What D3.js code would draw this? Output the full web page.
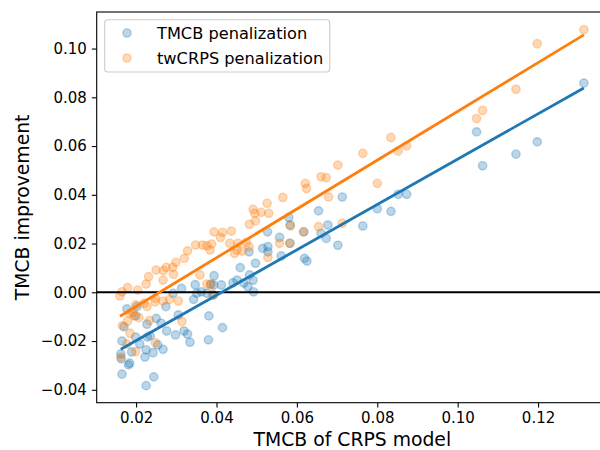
<!DOCTYPE html>
<html>
<head>
<meta charset="utf-8">
<script src="https://cdn.jsdelivr.net/npm/d3@7"></script>
<style>
  html, body { margin: 0; padding: 0; background: #fff; }
  svg { display: block; font-family: "DejaVu Sans", sans-serif; }
</style>
</head>
<body>
<svg id="chart" width="600" height="450"></svg>
<script>
// ---- data ----
const seriesNames = ["TMCB penalization", "twCRPS penalization"];
const seriesColors = ["#1f77b4", "#ff7f0e"];

const tmcbX = [0.0165,0.0225,0.0244,0.0181,0.0184,0.0163,0.0222,0.0242,0.0225,0.0267,0.0162,0.0165,0.0199,0.0228,0.0235,0.0334,0.0380,0.0319,0.0328,0.0298,0.0276,0.0262,0.0250,0.0227,0.0305,0.0202,0.0199,0.0177,0.0274,0.0292,0.0313,0.0347,0.0351,0.0343,0.0376,0.0386,0.0170,0.0189,0.0209,0.0254,0.0381,0.0415,0.0654,0.0580,0.0583,0.0527,0.0557,0.0515,0.0528,0.0481,0.0561,0.0583,0.0619,0.0625,0.0497,0.0459,0.0482,0.0491,0.0451,0.0441,0.0394,0.0393,0.0412,0.0478,0.0492,0.0660,0.0677,0.0617,0.0468,0.0713,0.0673,0.0702,0.0764,0.0800,0.0834,0.0852,0.0873,0.1047,0.1062,0.1145,0.1198,0.1314,0.0392,0.0528,0.0362];
const tmcbY = [-0.0336,-0.0383,-0.0347,-0.0298,-0.0291,-0.0273,-0.0266,-0.0248,-0.0236,-0.0234,-0.0253,-0.0200,-0.0184,-0.0184,-0.0179,-0.0205,-0.0195,-0.0159,-0.0172,-0.0175,-0.0159,-0.0127,-0.0107,-0.0131,-0.0093,-0.0059,-0.0097,-0.0068,-0.0059,-0.0004,0.0016,0.0031,-0.0004,-0.0029,-0.0004,0.0034,-0.0142,-0.0245,-0.0212,-0.0216,-0.0097,-0.0145,0.0334,0.0307,0.0276,0.0248,0.0225,0.0180,0.0187,0.0166,0.0149,0.0201,0.0139,0.0128,0.0119,0.0101,0.0071,0.0050,0.0050,0.0039,0.0068,0.0030,0.0030,0.0023,0.0002,0.0242,0.0276,0.0248,0.0038,0.0391,0.0221,0.0193,0.0272,0.0343,0.0332,0.0402,0.0402,0.0658,0.0519,0.0567,0.0617,0.0858,-0.0011,0.0166,0.0002];

const twX = [0.0162,0.0177,0.0199,0.0248,0.0166,0.0179,0.0185,0.0195,0.0207,0.0191,0.0233,0.0314,0.0227,0.0247,0.0267,0.0283,0.0305,0.0199,0.0185,0.0179,0.0165,0.0160,0.0204,0.0248,0.0220,0.0225,0.0267,0.0231,0.0250,0.0268,0.0275,0.0291,0.0299,0.0320,0.0328,0.0348,0.0376,0.0394,0.0359,0.0376,0.0293,0.0385,0.0388,0.0384,0.0621,0.0624,0.0565,0.0526,0.0491,0.0511,0.0530,0.0497,0.0482,0.0437,0.0415,0.0410,0.0433,0.0453,0.0474,0.0481,0.0451,0.0464,0.0445,0.0528,0.0557,0.0582,0.0654,0.0584,0.0495,0.0617,0.0834,0.0852,0.0873,0.0764,0.0702,0.0660,0.0673,0.0679,0.0800,0.0713,0.1047,0.1062,0.1145,0.1198,0.1314,0.0392,0.0365];
const twY = [-0.0266,-0.0213,-0.0243,-0.0207,-0.0137,-0.0118,-0.0168,-0.0097,-0.0104,-0.0080,-0.0116,-0.0120,-0.0059,-0.0039,-0.0036,-0.0029,-0.0036,-0.0052,-0.0086,0.0019,0.0002,-0.0015,0.0009,-0.0025,-0.0045,0.0034,0.0050,0.0064,0.0091,0.0089,0.0102,0.0102,0.0123,0.0139,0.0170,0.0194,0.0191,0.0248,0.0071,0.0034,0.0074,0.0030,0.0198,0.0173,0.0447,0.0426,0.0389,0.0365,0.0340,0.0328,0.0324,0.0293,0.0279,0.0251,0.0246,0.0225,0.0201,0.0201,0.0205,0.0187,0.0173,0.0169,0.0160,0.0143,0.0201,0.0201,0.0269,0.0272,0.0324,0.0248,0.0635,0.0579,0.0601,0.0570,0.0522,0.0474,0.0470,0.0391,0.0447,0.0283,0.0713,0.0746,0.0833,0.1020,0.1078,-0.0011,0.0194];

const xTicks = [0.02, 0.04, 0.06, 0.08, 0.10, 0.12];
const yTicks = [-0.04, -0.02, 0.00, 0.02, 0.04, 0.06, 0.08, 0.10];
const xLabel = "TMCB of CRPS model";
const yLabel = "TMCB improvement";

// ---- layout ----
const svg = d3.select("#chart");
const L = 96.7, R = 608, T = 12, B = 402.7;
const x = d3.scaleLinear().domain([0.0102, 0.1374]).range([L, R]);
const y = d3.scaleLinear().domain([-0.0453, 0.1150]).range([B, T]);
const fmt = v => d3.format(".2f")(v).replace("-", "\u2212");

const series = [
  {name: seriesNames[0], color: seriesColors[0], pts: tmcbX.map((v, i) => [v, tmcbY[i]])},
  {name: seriesNames[1], color: seriesColors[1], pts: twX.map((v, i) => [v, twY[i]])}
];

// scatter points
series.forEach(s => {
  svg.append("g").selectAll("circle").data(s.pts).join("circle")
    .attr("cx", d => x(d[0])).attr("cy", d => y(d[1])).attr("r", 4.17)
    .attr("fill", s.color).attr("fill-opacity", 0.3)
    .attr("stroke", s.color).attr("stroke-opacity", 0.3).attr("stroke-width", 1.39);
});

// zero line
svg.append("line").attr("x1", L).attr("x2", R).attr("y1", y(0)).attr("y2", y(0))
  .attr("stroke", "#000").attr("stroke-width", 2.08);

// least-squares fit lines
series.forEach(s => {
  const mx = d3.mean(s.pts, d => d[0]), my = d3.mean(s.pts, d => d[1]);
  let sxy = 0, sxx = 0;
  s.pts.forEach(d => { sxy += (d[0] - mx) * (d[1] - my); sxx += (d[0] - mx) ** 2; });
  const b = sxy / sxx, a = my - b * mx;
  const [x0, x1] = d3.extent(s.pts, d => d[0]);
  svg.append("line").attr("x1", x(x0)).attr("x2", x(x1))
    .attr("y1", y(a + b * x0)).attr("y2", y(a + b * x1))
    .attr("stroke", s.color).attr("stroke-width", 2.8);
});

// axes
const gx = svg.append("g").attr("transform", `translate(0,${B})`)
  .call(d3.axisBottom(x).tickValues(xTicks).tickFormat(fmt).tickSize(4.9).tickPadding(5).tickSizeOuter(0));
const gy = svg.append("g").attr("transform", `translate(${L},0)`)
  .call(d3.axisLeft(y).tickValues(yTicks).tickFormat(fmt).tickSize(4.9).tickPadding(5).tickSizeOuter(0));
[gx, gy].forEach(g => {
  g.select(".domain").remove();
  g.selectAll(".tick line").attr("stroke", "#000").attr("stroke-width", 1.1);
  g.selectAll(".tick text").attr("fill", "#000").style("font-size", "15px").style("font-family", "DejaVu Sans");
});

// frame
svg.append("rect").attr("x", L).attr("y", T).attr("width", R - L).attr("height", B - T)
  .attr("fill", "none").attr("stroke", "#000").attr("stroke-width", 1.1);

// axis labels
svg.append("text").attr("x", (L + R) / 2).attr("y", 446).attr("text-anchor", "middle")
  .style("font-size", "18.8px").text(xLabel);
svg.append("text").attr("transform", `translate(29,${(T + B) / 2}) rotate(-90)`)
  .attr("text-anchor", "middle").style("font-size", "18.8px").text(yLabel);

// legend
const lg = svg.append("g");
lg.append("rect").attr("x", 104.7).attr("y", 19.7).attr("width", 225).attr("height", 52.3)
  .attr("rx", 3).attr("fill", "#fff").attr("fill-opacity", 0.8).attr("stroke", "#ccc").attr("stroke-width", 1.1);
series.forEach((s, i) => {
  const cy = 33 + i * 25;
  lg.append("circle").attr("cx", 127).attr("cy", cy).attr("r", 4.17)
    .attr("fill", s.color).attr("fill-opacity", 0.3)
    .attr("stroke", s.color).attr("stroke-opacity", 0.3).attr("stroke-width", 1.39);
  lg.append("text").attr("x", 157).attr("y", cy + 6).style("font-size", "16.2px").text(s.name);
});
</script>
</body>
</html>
